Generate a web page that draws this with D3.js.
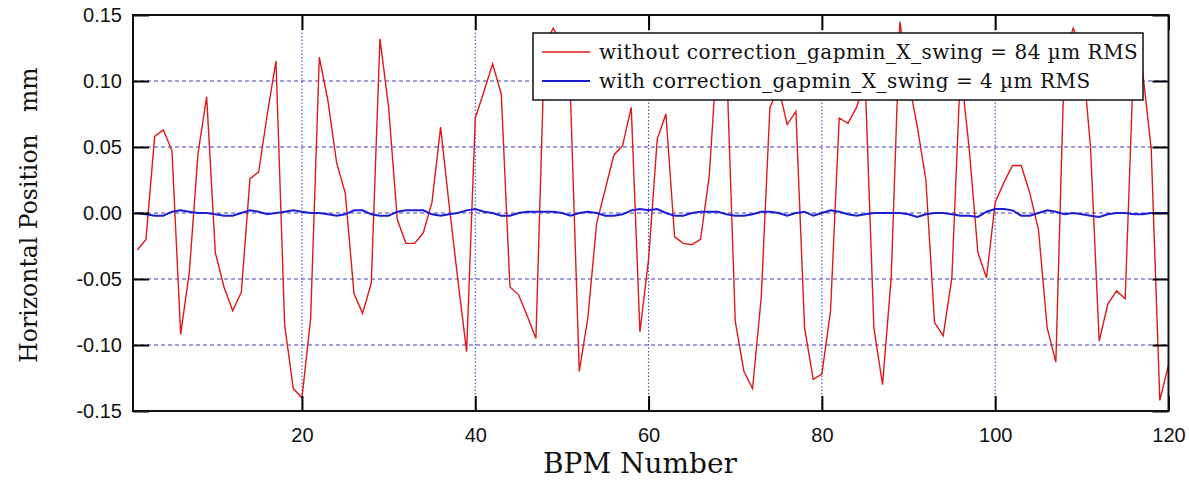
<!DOCTYPE html>
<html>
<head>
<meta charset="utf-8">
<script src="https://cdn.jsdelivr.net/npm/d3@7"></script>
<style>
body { margin: 0; background: #fff; }
svg { display: block; }
</style>
</head>
<body>
<script>
// BPM readings, one value per BPM (1..120), in mm
var withoutCorr = [
  -0.028, -0.020, 0.058, 0.063, 0.047, -0.092, -0.045, 0.045, 0.088, -0.030,
  -0.056, -0.074, -0.060, 0.026, 0.031, 0.075, 0.115, -0.085, -0.133, -0.140,
  -0.080, 0.118, 0.085, 0.038, 0.015, -0.061, -0.076, -0.053, 0.132, 0.080,
  -0.005, -0.023, -0.023, -0.015, 0.008, 0.065, 0.005, -0.051, -0.105, 0.072,
  0.092, 0.113, 0.090, -0.056, -0.062, -0.078, -0.095, 0.128, 0.140, 0.128,
  0.085, -0.120, -0.079, -0.008, 0.018, 0.044, 0.051, 0.080, -0.090, -0.035,
  0.056, 0.075, -0.018, -0.023, -0.024, -0.020, 0.028, 0.130, 0.115, -0.082,
  -0.120, -0.133, -0.064, 0.080, 0.095, 0.067, 0.077, -0.087, -0.126, -0.122,
  -0.074, 0.072, 0.068, 0.080, 0.100, -0.087, -0.130, -0.049, 0.145, 0.100,
  0.066, 0.025, -0.083, -0.093, -0.049, 0.110, 0.049, -0.030, -0.049, 0.008,
  0.023, 0.036, 0.036, 0.015, -0.013, -0.087, -0.113, 0.120, 0.140, 0.125,
  0.050, -0.097, -0.069, -0.059, -0.065, 0.120, 0.108, 0.049, -0.142, -0.115
];
var withCorr = [
  0.000, -0.001, -0.002, -0.002, 0.001, 0.002, 0.001, 0.000, 0.000, -0.001,
  -0.002, -0.002, 0.000, 0.002, 0.001, -0.001, 0.000, 0.001, 0.002, 0.001,
  0.000, 0.000, -0.001, -0.002, -0.001, 0.002, 0.002, -0.001, -0.002, -0.002,
  0.001, 0.002, 0.002, 0.002, -0.001, -0.002, -0.001, 0.000, 0.002, 0.003,
  0.001, 0.000, -0.002, -0.002, 0.000, 0.001, 0.001, 0.001, 0.001, 0.000,
  -0.002, 0.000, 0.001, 0.000, -0.002, -0.002, -0.001, 0.002, 0.003, 0.002,
  0.003, 0.000, -0.002, -0.002, 0.000, 0.001, 0.001, 0.001, -0.001, -0.002,
  -0.002, -0.001, 0.001, 0.001, 0.000, -0.002, 0.000, 0.001, -0.002, 0.000,
  0.002, 0.001, -0.001, -0.002, -0.001, 0.000, 0.000, 0.000, 0.000, -0.001,
  -0.003, -0.001, 0.000, 0.000, -0.001, -0.002, -0.002, -0.003, 0.001, 0.003,
  0.003, 0.002, -0.002, -0.002, 0.000, 0.002, 0.001, -0.001, 0.000, -0.001,
  -0.002, -0.003, -0.001, 0.000, 0.000, -0.001, -0.001, 0.000, 0.000, 0.000
];
var xTicks = [20, 40, 60, 80, 100, 120];
var xGrid = [20, 40, 60, 80, 100];
var yTicks = [-0.15, -0.10, -0.05, 0.00, 0.05, 0.10, 0.15];
var yGrid = [-0.10, -0.05, 0.00, 0.05, 0.10];
var legendLabels = [
  "without correction_gapmin_X_swing = 84 \u00b5m RMS",
  "with correction_gapmin_X_swing = 4 \u00b5m RMS"
];

var redcolor = "#e01818";
var bluecolor = "#1c1cd0";
var gridcolor = "#3a3ac8";
var serif = "'DejaVu Serif', serif";
var sans = "'Liberation Sans', Arial, sans-serif";

// plot box (window.top is taken, so use own names)
var pLeft = 133, pRight = 1168.5, pTop = 15, pBottom = 411;

var svg = d3.select("body").append("svg")
	.attr("width", 1189)
	.attr("height", 480)

var x = d3.scaleLinear().domain([0.5, 120]).range([pLeft, pRight]);
var y = d3.scaleLinear().domain([-0.15, 0.15]).range([pBottom, pTop]);

// grid
svg.append("g").selectAll("line").data(yGrid).enter().append("line")
	.attr("x1", pLeft).attr("x2", pRight)
	.attr("y1", d => y(d)).attr("y2", d => y(d))
	.style("stroke", gridcolor)
	.style("stroke-width", 1)
	.style("stroke-dasharray", "4,3")
svg.append("g").selectAll("line").data(xGrid).enter().append("line")
	.attr("x1", d => x(d)).attr("x2", d => x(d))
	.attr("y1", pTop).attr("y2", pBottom)
	.style("stroke", gridcolor)
	.style("stroke-width", 1)
	.style("stroke-dasharray", "1.5,2")

// series
var line = d3.line()
	.x((d, i) => x(i + 1))
	.y(d => y(d));

svg.append("defs").append("clipPath").attr("id", "plotclip")
	.append("rect").attr("x", pLeft).attr("y", pTop)
	.attr("width", pRight - pLeft).attr("height", pBottom - pTop)

svg.append("path")
	.datum(withoutCorr)
	.attr("d", line)
	.attr("clip-path", "url(#plotclip)")
	.style("fill", "none")
	.style("stroke", redcolor)
	.style("stroke-width", 1.4)

svg.append("path")
	.datum(withCorr)
	.attr("d", line)
	.attr("clip-path", "url(#plotclip)")
	.style("fill", "none")
	.style("stroke", bluecolor)
	.style("stroke-width", 2)

// axes, ticks point inward on all sides
var fmt = d => d3.format(".2f")(d).replace("\u2212", "-");

svg.append("g").attr("transform", `translate(${pLeft},0)`)
	.call(d3.axisLeft(y).tickValues(yTicks).tickFormat(fmt).tickSize(-16).tickSizeOuter(0).tickPadding(11))
svg.append("g").attr("transform", `translate(0,${pBottom})`)
	.call(d3.axisBottom(x).tickValues(xTicks).tickSize(-15).tickSizeOuter(0).tickPadding(17))
svg.append("g").attr("transform", `translate(0,${pTop})`)
	.call(d3.axisTop(x).tickValues(xTicks).tickFormat("").tickSize(-15).tickSizeOuter(0))
svg.append("g").attr("transform", `translate(${pRight},0)`)
	.call(d3.axisRight(y).tickValues(yTicks).tickFormat("").tickSize(-16).tickSizeOuter(0))

svg.selectAll(".domain").remove();
svg.selectAll(".tick line").style("stroke", "#000").style("stroke-width", 2);
svg.selectAll(".tick text")
	.style("font-family", sans)
	.style("font-size", "20px")
	.style("fill", "#111")

// frame
svg.append("rect")
	.attr("x", pLeft).attr("y", pTop)
	.attr("width", pRight - pLeft).attr("height", pBottom - pTop)
	.style("fill", "none")
	.style("stroke", "#111")
	.style("stroke-width", 2)

// legend
var lg = svg.append("g").attr("transform", "translate(533,33)");
lg.append("rect")
	.attr("width", 610).attr("height", 67)
	.style("fill", "#fff")
	.style("stroke", "#111")
	.style("stroke-width", 1.5)
var rows = lg.selectAll(".row").data(legendLabels).enter().append("g")
	.attr("class", "row")
	.attr("transform", (d, i) => `translate(0,${19 + i * 29})`)
rows.append("line")
	.attr("x1", 9).attr("x2", 57)
	.style("stroke", (d, i) => i == 0 ? redcolor : bluecolor)
	.style("stroke-width", (d, i) => i == 0 ? 1.4 : 2)
rows.append("text")
	.attr("x", 66).attr("y", 7)
	.text(d => d)
	.style("font-family", serif)
	.style("font-size", "20px")
	.style("letter-spacing", "0.5px")
	.style("fill", "#111")

// titles
svg.append("text")
	.attr("x", 640).attr("y", 473)
	.attr("text-anchor", "middle")
	.text("BPM Number")
	.style("font-family", serif)
	.style("font-size", "28px")
	.style("fill", "#111")
svg.append("text")
	.attr("transform", "translate(37,215) rotate(-90)")
	.attr("text-anchor", "middle")
	.attr("xml:space", "preserve")
	.style("white-space", "pre")
	.text("Horizontal Position   mm")
	.style("font-family", serif)
	.style("font-size", "23.5px")
	.style("fill", "#111")
</script>
</body>
</html>
